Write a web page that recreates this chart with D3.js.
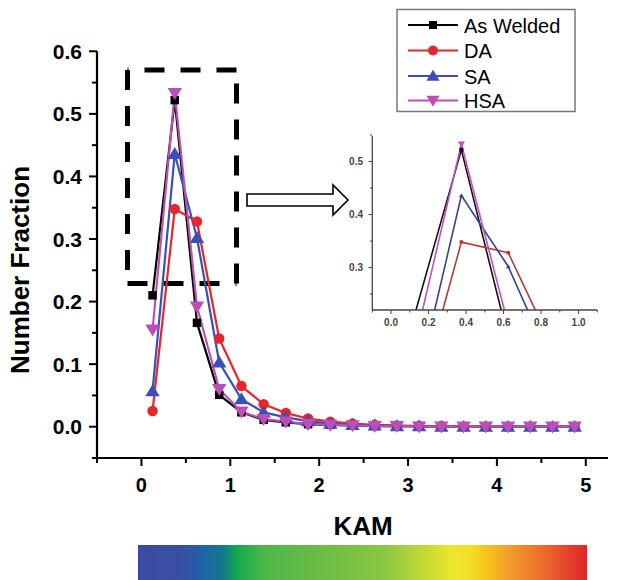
<!DOCTYPE html>
<html>
<head>
<meta charset="utf-8">
<script src="https://cdn.jsdelivr.net/npm/d3@7/dist/d3.min.js"></script>
<style>
html,body{margin:0;padding:0;background:#fff;}
svg{display:block;font-family:"Liberation Sans",Arial,sans-serif;}
</style>
</head>
<body>
<svg id="chart" width="630" height="580"></svg>
<script>
// ---------- data ----------
const kam = [0.125,0.375,0.625,0.875,1.125,1.375,1.625,1.875,2.125,2.375,2.625,2.875,3.125,3.375,3.625,3.875,4.125,4.375,4.625,4.875];
const asWelded = [0.210,0.522,0.166,0.051,0.023,0.011,0.007,0.004,0.003,0.002,0.001,0.001,0.001,0,0,0,0,0,0,0];
const da       = [0.025,0.348,0.328,0.141,0.065,0.036,0.022,0.013,0.008,0.005,0.003,0.002,0.001,0.001,0,0,0,0,0,0];
const sa       = [0.057,0.436,0.302,0.103,0.044,0.023,0.015,0.009,0.005,0.003,0.002,0.001,0.001,0,0,0,0,0,0,0];
const hsa      = [0.155,0.533,0.192,0.060,0.024,0.012,0.008,0.004,0.003,0.002,0.001,0.001,0,0,0,0,0,0,0,0];
const seriesNames = ["As Welded","DA","SA","HSA"];
const xTicks = [0,1,2,3,4,5];
const yTicks = [0.0,0.1,0.2,0.3,0.4,0.5,0.6];
const insetXTicks = [0.0,0.2,0.4,0.6,0.8,1.0];
const insetYTicks = [0.3,0.4,0.5];
const rampStops = [[0,"#3b4aa3"],[0.10,"#3a4ea6"],[0.14,"#1f62a8"],[0.19,"#127a88"],[0.22,"#12a84c"],[0.28,"#4cb848"],[0.42,"#6dbd45"],[0.55,"#8cc641"],[0.64,"#c3da33"],[0.70,"#ece62c"],[0.74,"#f2df28"],[0.77,"#f6c91a"],[0.83,"#f29a2a"],[0.89,"#ee752b"],[0.95,"#e6482b"],[1,"#de2629"]];

const series = [
  {name:seriesNames[0], vals:asWelded, color:"#000000", inset:"#111111", shape:"square"},
  {name:seriesNames[1], vals:da,       color:"#e8262a", inset:"#b53a36", shape:"circle"},
  {name:seriesNames[2], vals:sa,       color:"#3a4fb8", inset:"#3a3f9a", shape:"triUp"},
  {name:seriesNames[3], vals:hsa,      color:"#bb4fb5", inset:"#c24ec4", shape:"triDown"}
];

const svg = d3.select("#chart");
const F = '"Liberation Sans",Arial,sans-serif';

// ---------- main scales ----------
const x = d3.scaleLinear().domain([-0.5,5.25]).range([97,608]);
const y = d3.scaleLinear().domain([-0.05,0.6]).range([458,51.3]);

function symbolPath(shape, size){
  const s = size;
  if(shape==="square") return `M${-s/2},${-s/2}h${s}v${s}h${-s}Z`;
  if(shape==="circle") return d3.symbol(d3.symbolCircle, s*s*0.785)();
  if(shape==="triUp") { const h=s*0.95; return `M0,${-h*0.6}L${s*0.6},${h*0.45}L${-s*0.6},${h*0.45}Z`; }
  if(shape==="triDown") { const h=s*0.95; return `M0,${h*0.6}L${s*0.6},${-h*0.45}L${-s*0.6},${-h*0.45}Z`; }
}

// ---------- dashed rectangle & arrow ----------
const dashSegs = [
  [236.5,70,127.5,70],     // top, drawn from right
  [127.5,70,127.5,283.5],  // left, from top
  [127.5,283.5,236.5,283.5], // bottom, from left
  [236.5,283.5,236.5,70]   // right, from bottom
];
dashSegs.forEach(([x1,y1,x2,y2])=>{
  svg.append("line").attr("x1",x1).attr("y1",y1).attr("x2",x2).attr("y2",y2)
    .attr("stroke","#000").attr("stroke-width",5).attr("stroke-dasharray","20,16");
});

svg.append("path")
  .attr("d","M247,194 L333,194 L333,185 L348,200 L333,215 L333,206 L247,206 Z")
  .attr("fill","#fff").attr("stroke","#000").attr("stroke-width",1.6).attr("stroke-linejoin","miter");

// ---------- main axes ----------
const gx = svg.append("g").attr("transform","translate(0,458)");
gx.append("line").attr("x1",97).attr("x2",608).attr("stroke","#000").attr("stroke-width",2.2);
d3.range(-0.5,5.26,0.5).forEach(v=>{
  const major = Math.abs(v-Math.round(v))<1e-6;
  gx.append("line").attr("x1",x(v)).attr("x2",x(v)).attr("y1",0).attr("y2",major?8:5)
    .attr("stroke","#000").attr("stroke-width",2);
});
gx.selectAll("text.t").data(xTicks).join("text").attr("class","t")
  .attr("x",d=>x(d)).attr("y",34).attr("text-anchor","middle")
  .attr("font-family",F).attr("font-weight","bold").attr("font-size",20).text(d=>d);

const gy = svg.append("g").attr("transform","translate(97,0)");
gy.append("line").attr("y1",458).attr("y2",y(0.6)).attr("stroke","#000").attr("stroke-width",2.2);
d3.range(-0.05,0.601,0.05).forEach(v=>{
  const major = Math.abs(v*10-Math.round(v*10))<1e-6;
  gy.append("line").attr("x1",0).attr("x2",major?-8:-5).attr("y1",y(v)).attr("y2",y(v))
    .attr("stroke","#000").attr("stroke-width",2);
});
gy.selectAll("text.t").data(yTicks).join("text").attr("class","t")
  .attr("x",-15).attr("y",d=>y(d)+7.5).attr("text-anchor","end")
  .attr("font-family",F).attr("font-weight","bold").attr("font-size",21).text(d=>d.toFixed(1));

svg.append("text").attr("transform","translate(29,270) rotate(-90)").attr("text-anchor","middle")
  .attr("font-family",F).attr("font-weight","bold").attr("font-size",26).text("Number Fraction");

svg.append("text").attr("x",363).attr("y",535).attr("text-anchor","middle")
  .attr("font-family",F).attr("font-weight","bold").attr("font-size",26).text("KAM");

// ---------- main series ----------
const line = d3.line().x((d,i)=>x(kam[i])).y(d=>y(d));
series.forEach(s=>{
  svg.append("path").attr("d",line(s.vals)).attr("fill","none")
    .attr("stroke",s.color).attr("stroke-width",2.2).attr("stroke-linejoin","round");
});
series.forEach(s=>{
  svg.append("g").selectAll("path").data(s.vals).join("path")
    .attr("transform",(d,i)=>`translate(${x(kam[i])},${y(d)})`)
    .attr("d",symbolPath(s.shape, s.shape==="circle"?10.5:(s.shape==="square"?8.5:12)))
    .attr("fill",s.color).attr("stroke","none");
});

// ---------- inset ----------
const ix = d3.scaleLinear().domain([-0.1,1.1]).range([372.3,597.3]);
const iy = d3.scaleLinear().domain([0.22,0.55]).range([310,135]);
svg.append("clipPath").attr("id","ic").append("rect").attr("x",372.3).attr("y",125).attr("width",225).attr("height",185);
const ig = svg.append("g");
const iline = d3.line().x((d,i)=>ix(kam[i])).y(d=>iy(d));
const ipl = ig.append("g").attr("clip-path","url(#ic)");
series.forEach(s=>{
  ipl.append("path").attr("d",iline(s.vals)).attr("fill","none")
    .attr("stroke",s.inset).attr("stroke-width",1.6).attr("stroke-linejoin","round");
});
series.forEach(s=>{
  ipl.append("g").selectAll("path").data(s.vals).join("path")
    .attr("transform",(d,i)=>`translate(${ix(kam[i])},${iy(d)})`)
    .attr("d",symbolPath(s.shape, s.shape==="triDown"?6:4))
    .attr("fill",s.inset);
});
ig.append("line").attr("x1",372.3).attr("x2",372.3).attr("y1",136).attr("y2",310).attr("stroke","#444").attr("stroke-width",1.3);
ig.append("line").attr("x1",372.3).attr("x2",597.3).attr("y1",310).attr("y2",310).attr("stroke","#444").attr("stroke-width",1.3);
d3.range(0.25,0.551,0.05).forEach(v=>{
  const major = Math.abs(v*10-Math.round(v*10))<1e-6;
  ig.append("line").attr("x1",372.3).attr("x2",major?368.5:370).attr("y1",iy(v)).attr("y2",iy(v)).attr("stroke","#444").attr("stroke-width",1);
});
d3.range(-0.1,1.101,0.1).forEach(v=>{
  const major = Math.abs(v*5-Math.round(v*5))<1e-6;
  ig.append("line").attr("x1",ix(v)).attr("x2",ix(v)).attr("y1",310).attr("y2",major?314:312.5).attr("stroke","#444").attr("stroke-width",1);
});
ig.selectAll("text.yt").data(insetYTicks).join("text").attr("class","yt")
  .attr("x",363).attr("y",d=>iy(d)+3.5).attr("text-anchor","end")
  .attr("font-family",F).attr("font-weight","bold").attr("font-size",10).attr("fill","#444").text(d=>d.toFixed(1));
ig.selectAll("text.xt").data(insetXTicks).join("text").attr("class","xt")
  .attr("x",d=>ix(d)).attr("y",326).attr("text-anchor","middle")
  .attr("font-family",F).attr("font-weight","bold").attr("font-size",10).attr("fill","#444").text(d=>d.toFixed(1));

// ---------- legend ----------
const lg = svg.append("g");
lg.append("rect").attr("x",397).attr("y",9.5).attr("width",178).attr("height",102)
  .attr("fill","#fff").attr("stroke","#777").attr("stroke-width",1.5);
const rowsY = [25,50.5,76,100.5];
series.forEach((s,i)=>{
  lg.append("line").attr("x1",408).attr("x2",458).attr("y1",rowsY[i]).attr("y2",rowsY[i]).attr("stroke",s.color).attr("stroke-width",2);
  lg.append("path").attr("transform",`translate(433,${rowsY[i]})`).attr("d",symbolPath(s.shape, s.shape==="circle"?10:(s.shape==="square"?8:11))).attr("fill",s.color);
  lg.append("text").attr("x",464).attr("y",rowsY[i]+7.5).attr("font-family",F).attr("font-size",20).text(s.name);
});

// ---------- colour bar ----------
const defs = svg.append("defs");
const grad = defs.append("linearGradient").attr("id","kamGrad").attr("x1","0").attr("x2","1").attr("y1","0").attr("y2","0");
rampStops.forEach(([o,c])=>grad.append("stop").attr("offset",o).attr("stop-color",c));
svg.append("rect").attr("x",138).attr("y",545).attr("width",449).attr("height",35).attr("fill","url(#kamGrad)");
</script>
</body>
</html>
